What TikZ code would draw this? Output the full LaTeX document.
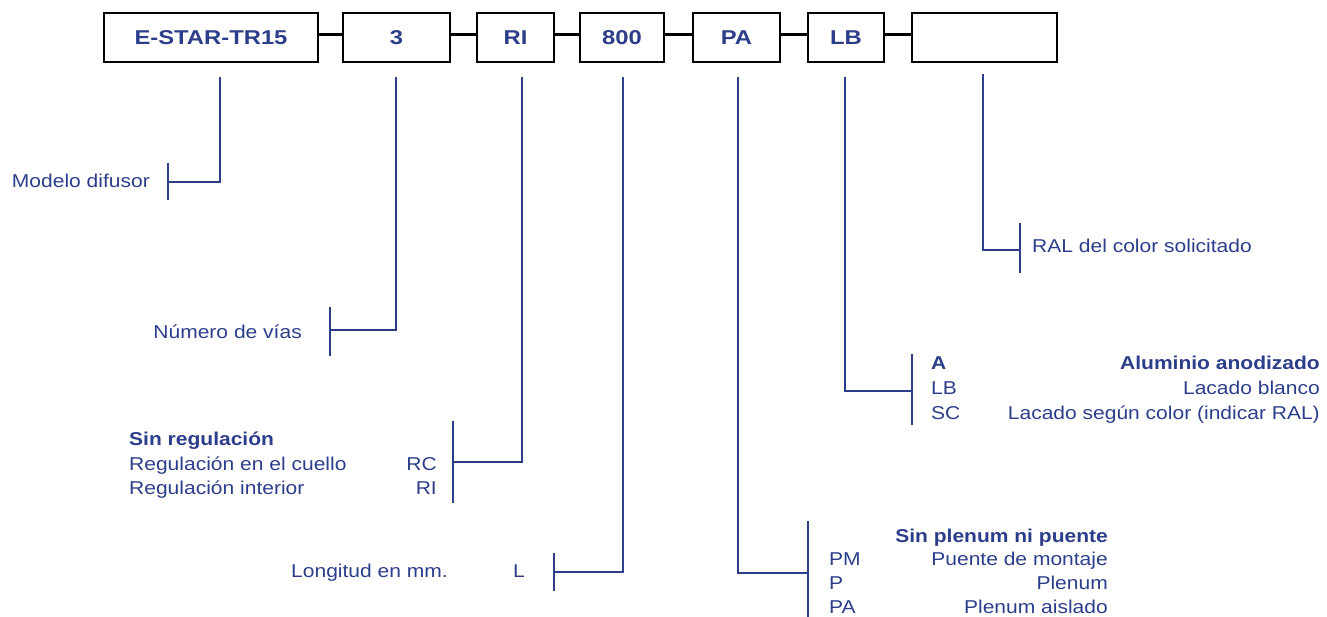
\documentclass[tikz,border=0pt]{standalone}
\usepackage{fontspec}
\setmainfont{Liberation Sans}[FakeStretch=1.13]
\newfontfamily\boxfont{Liberation Sans}[FakeStretch=1.19]
\definecolor{navy}{RGB}{44,62,138}
\begin{document}
\begin{tikzpicture}[x=1pt,y=-1pt,
  code/.style={draw=black,line width=1.8pt,minimum height=48.5pt,inner sep=0pt,
    text height=14pt,text depth=0pt,
    font=\boxfont\fontsize{20}{24}\selectfont\bfseries,text=navy},
  conn/.style={black,line width=3pt},
  lead/.style={navy,line width=2pt},
  txt/.style={inner sep=0pt,text=navy,font=\fontsize{18.6}{22}\selectfont},
  btxt/.style={txt,font=\fontsize{18.6}{22}\selectfont\bfseries}
]
\useasboundingbox (0,0) rectangle (1327,617);
% code boxes
\node[code,minimum width=214pt] (b1) at (211,37.5) {E-STAR-TR15};
\node[code,minimum width=107pt] (b2) at (396.5,37.5) {3};
\node[code,minimum width=77pt]  (b3) at (515.5,37.5) {RI};
\node[code,minimum width=84pt]  (b4) at (622,37.5) {800};
\node[code,minimum width=87pt]  (b5) at (736.5,37.5) {PA};
\node[code,minimum width=76pt]  (b6) at (846,37.5) {LB};
\node[code,minimum width=145pt] (b7) at (984.5,37.5) {};
\foreach \a/\b in {b1/b2,b2/b3,b3/b4,b4/b5,b5/b6,b6/b7}
  \draw[conn] ([yshift=2.5pt]\a.east) -- ([yshift=2.5pt]\b.west);
% lead coordinates
\coordinate (s1) at (220,77);  \coordinate (t1) at (168,182);
\coordinate (u1) at (168,163); \coordinate (v1) at (168,200);
\coordinate (s2) at (396,77);  \coordinate (t2) at (330,330);
\coordinate (u2) at (330,307); \coordinate (v2) at (330,356);
\coordinate (s3) at (522,77);  \coordinate (t3) at (453,462);
\coordinate (u3) at (453,421); \coordinate (v3) at (453,503);
\coordinate (s4) at (623,77);  \coordinate (t4) at (554,572);
\coordinate (u4) at (554,553); \coordinate (v4) at (554,591);
\coordinate (s5) at (738,77);  \coordinate (t5) at (808,573);
\coordinate (u5) at (808,521); \coordinate (v5) at (808,617);
\coordinate (s6) at (845,77);  \coordinate (t6) at (912,391);
\coordinate (u6) at (912,354); \coordinate (v6) at (912,425);
\coordinate (s7) at (983,74);  \coordinate (t7) at (1020,250);
\coordinate (u7) at (1020,223); \coordinate (v7) at (1020,273);
\foreach \i in {1,...,7}{
  \draw[lead] (s\i) |- (t\i);
  \draw[lead] (u\i) -- (v\i);
}
% texts
\node[txt,anchor=base east] (m1) at (150,187.5) {Modelo difusor};
\node[txt,anchor=base east] (m2) at (302,338) {Número de vías};
\node[btxt,anchor=base west] (m3a) at (129,445.5) {Sin regulación};
\node[txt,anchor=base west] (m3b) at (129,470) {Regulación en el cuello};
\node[txt,anchor=base west] (m3c) at (129,494.5) {Regulación interior};
\node[txt,anchor=base east] (c3b) at (437,470) {RC};
\node[txt,anchor=base east] (c3c) at (437,494.5) {RI};
\node[txt,anchor=base east] (m4) at (448,577.5) {Longitud en mm.};
\node[txt,anchor=base west] (c4) at (513,577.5) {L};
\node[btxt,anchor=base east] (m5a) at (1108,542) {Sin plenum ni puente};
\node[txt,anchor=base west] (c5b) at (829,565) {PM};
\node[txt,anchor=base west] (c5c) at (829,589) {P};
\node[txt,anchor=base west] (c5d) at (829,613) {PA};
\node[txt,anchor=base east] (m5b) at (1108,565) {Puente de montaje};
\node[txt,anchor=base east] (m5c) at (1108,589) {Plenum};
\node[txt,anchor=base east] (m5d) at (1108,613) {Plenum aislado};
\node[btxt,anchor=base west] (c6a) at (931,370) {A};
\node[txt,anchor=base west] (c6b) at (931,394.5) {LB};
\node[txt,anchor=base west] (c6c) at (931,419) {SC};
\node[btxt,anchor=base east] (m6a) at (1320,370) {Aluminio anodizado};
\node[txt,anchor=base east] (m6b) at (1320,394.5) {Lacado blanco};
\node[txt,anchor=base east] (m6c) at (1320,419) {Lacado según color (indicar RAL)};
\node[txt,anchor=base west] (m7) at (1032,252.5) {RAL del color solicitado};
\end{tikzpicture}
\end{document}
